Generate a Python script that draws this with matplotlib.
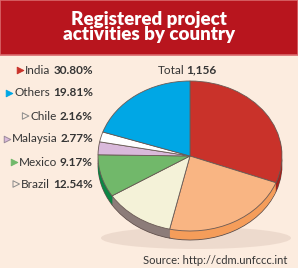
import matplotlib
matplotlib.use("Agg")
import matplotlib.pyplot as plt
from matplotlib.patches import Rectangle, Ellipse

# ---- data ----
countries = ["India", "China", "Brazil", "Mexico", "Malaysia", "Chile", "Others"]
shares = [30.80, 22.75, 12.54, 9.17, 2.77, 2.16, 19.81]
top_colors = ["#C9322A", "#F9B583", "#F4F2D8", "#71B86A", "#D9B9DB", "#FFFFFF", "#00A7E5"]
side_colors = ["#A3231D", "#F59D5A", "#8C7C79", "#0C8544", "#B896BA", "#DDDDDD", "#0084B8"]

legend_names = ["India", "Others", "Chile", "Malaysia", "Mexico", "Brazil"]
legend_values = ["30.80%", "19.81%", "2.16%", "2.77%", "9.17%", "12.54%"]
legend_marker_fill = ["#C9322A", "#00A7E5", "none", "#D9B9DB", "#71B86A", "none"]
legend_marker_edge = ["#C9322A", "#00A7E5", "#8A8A8A", "#9A8A9A", "#71B86A", "#8A8A8A"]

title = "Registered project\nactivities by country"
total_label = "Total"
total_value = "1,156"
china_label = "China\n22.75%"
source = "Source: http://cdm.unfccc.int"

W, H = 298, 268
BG = "#FCECDF"
TXT = "#353535"
fig = plt.figure(figsize=(W / 100, H / 100), dpi=100, facecolor=BG)

# background axes in pixel coords
bg = fig.add_axes([0, 0, 1, 1])
bg.set_xlim(0, W)
bg.set_ylim(H, 0)
bg.axis("off")
bg.add_patch(Rectangle((0, 0), W, 55, facecolor="#B8151E", edgecolor="#D9696C", lw=1.2))
bg.text(W / 2, 27, title, ha="center", va="center", color="white",
        fontsize=13.5, fontweight="heavy", family="Lato", linespacing=0.92)

# shadow under pie
bg.add_patch(Ellipse((196, 238), 190, 22, facecolor="#E8D3C6", edgecolor="none", alpha=0.7))

# ---- pie (3D-ish ellipse) ----
cx, cy, rx, ry, depth = 190, 156, 92, 75, 9
d = depth / ry
left = (cx - rx) / W
width = 2 * rx / W
top_px = cy - ry
bottom_px = cy + ry + depth
pax = fig.add_axes([left, (H - bottom_px) / H, width, (bottom_px - top_px) / H])
pax.patch.set_alpha(0)

nlay = 10
for i in range(nlay, 0, -1):
    off = d * i / nlay
    pax.pie(shares, colors=side_colors, startangle=90, counterclock=False,
            center=(0, -off), radius=1,
            wedgeprops=dict(edgecolor="#5E4E4A" if i == nlay else "none", linewidth=0.6))
pax.pie(shares, colors=top_colors, startangle=90, counterclock=False,
        center=(0, 0), radius=1,
        wedgeprops=dict(edgecolor="#6A5A55", linewidth=0.6))
pax.set_aspect("auto")
pax.set_xlim(-1, 1)
pax.set_ylim(-1 - d, 1)
pax.axis("off")

fig.canvas.draw()
r = fig.canvas.get_renderer()

# labels on chart
tt = bg.text(158, 70, total_label, ha="left", va="center", color=TXT, fontsize=8.5, family="Lato")
wt = tt.get_window_extent(r).width
bg.text(158 + wt + 1.5, 70, total_value, ha="left", va="center", color=TXT, fontsize=8.5,
        family="Lato", fontweight="bold")
bg.text(197, 194, china_label, ha="left", va="center", color=TXT, fontsize=8.5,
        family="Lato", linespacing=0.9)
bg.text(287, 260, source, ha="right", va="center", color=TXT, fontsize=8, family="Lato")

# ---- legend ----
ys = [70, 93, 116, 139, 162, 184]
xr = 93
for name, val, fc, ec, y in zip(legend_names, legend_values, legend_marker_fill, legend_marker_edge, ys):
    tv = bg.text(xr, y, val, ha="right", va="center", color=TXT, fontsize=8.5,
                 family="Lato", fontweight="bold")
    wv = tv.get_window_extent(r).width
    tn = bg.text(xr - wv - 3, y, name, ha="right", va="center", color=TXT,
                 fontsize=8.5, family="Lato")
    wn = tn.get_window_extent(r).width
    mx = xr - wv - 3 - wn - 5
    bg.scatter([mx], [y], marker=">", s=22, facecolor=fc, edgecolor=ec, linewidth=0.7, zorder=5)

fig.savefig("out.png", dpi=100, facecolor=BG)
